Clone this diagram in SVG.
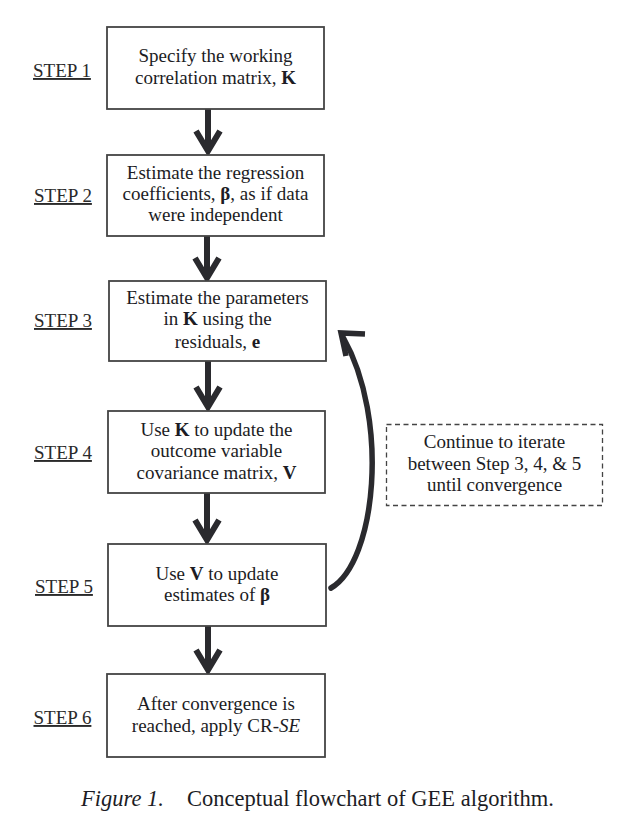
<svg xmlns="http://www.w3.org/2000/svg" width="620" height="829" viewBox="0 0 620 829">
<style>
.box{fill:#fff;stroke:#444;stroke-width:1.8}
.dbox{fill:#fff;stroke:#444;stroke-width:1.3;stroke-dasharray:5 3.5}
.t{font-family:"Liberation Serif","Times New Roman",serif;font-size:19px;fill:#1c1c24;text-anchor:middle}
.s{font-family:"Liberation Serif","Times New Roman",serif;font-size:19px;fill:#2a2a2a;text-decoration:underline}
.cap{font-family:"Liberation Serif","Times New Roman",serif;font-size:22.5px;fill:#1c1c24}
.b{font-weight:bold}
.i{font-style:italic}
.ar{fill:none;stroke:#2a2a2e;stroke-width:6;stroke-linejoin:miter;stroke-linecap:butt}
</style>
<rect width="620" height="829" fill="#fff"/>
<g id="connectors">
<path class="ar" d="M208,109 V150 M196,131 L208,151 L220,131"/>
<path class="ar" d="M207,236 V277 M195,258 L207,278 L219,258"/>
<path class="ar" d="M208,361 V406 M196,387 L208,407 L220,387"/>
<path class="ar" d="M207,493 V539 M195,520 L207,540 L219,520"/>
<path class="ar" d="M208,626 V669 M196,650 L208,670 L220,650"/>
<path class="ar" d="M331,588 C376,562 390,420 343,337" style="stroke-linecap:round;stroke-width:5.5"/>
<path class="ar" d="M365,334 L341,333 L346,356" style="stroke-width:5.5"/>
</g>
<g id="step1">
<text class="s" x="33" y="77">STEP 1</text>
<rect class="box" x="107" y="27" width="217" height="82"/>
<text class="t" x="215.5" y="62">Specify the working</text>
<text class="t" x="215.5" y="83.5">correlation matrix, <tspan class="b">K</tspan></text>
</g>
<g id="step2">
<text class="s" x="34" y="202">STEP 2</text>
<rect class="box" x="107" y="155" width="217" height="81"/>
<text class="t" x="215.5" y="178.5">Estimate the regression</text>
<text class="t" x="215.5" y="199.5">coefficients, <tspan class="b">β</tspan>, as if data</text>
<text class="t" x="215.5" y="221">were independent</text>
</g>
<g id="step3">
<text class="s" x="34" y="327">STEP 3</text>
<rect class="box" x="109" y="281" width="217" height="80"/>
<text class="t" x="217.5" y="303.5">Estimate the parameters</text>
<text class="t" x="217.5" y="325">in <tspan class="b">K</tspan> using the</text>
<text class="t" x="217.5" y="347.5">residuals, <tspan class="b">e</tspan></text>
</g>
<g id="step4">
<text class="s" x="34" y="459">STEP 4</text>
<rect class="box" x="108" y="411" width="217" height="82"/>
<text class="t" x="216.5" y="435.5">Use <tspan class="b">K</tspan> to update the</text>
<text class="t" x="216.5" y="457">outcome variable</text>
<text class="t" x="216.5" y="478.5">covariance matrix, <tspan class="b">V</tspan></text>
</g>
<g id="step5">
<text class="s" x="35" y="593">STEP 5</text>
<rect class="box" x="108" y="544" width="218" height="82"/>
<text class="t" x="217" y="580">Use <tspan class="b">V</tspan> to update</text>
<text class="t" x="217" y="601">estimates of <tspan class="b">β</tspan></text>
</g>
<g id="step6">
<text class="s" x="33.5" y="724">STEP 6</text>
<rect class="box" x="107" y="674" width="218" height="83"/>
<text class="t" x="216" y="710">After convergence is</text>
<text class="t" x="216" y="731.5">reached, apply CR-<tspan class="i">SE</tspan></text>
</g>
<g id="note">
<rect class="dbox" x="386.5" y="424.5" width="216" height="81"/>
<text class="t" x="494.5" y="447.5">Continue to iterate</text>
<text class="t" x="494.5" y="469.5">between Step 3, 4, &amp; 5</text>
<text class="t" x="494.5" y="491">until convergence</text>
</g>
<g id="caption">
<text class="cap" x="81" y="806"><tspan class="i">Figure 1.</tspan></text>
<text class="cap" x="187" y="806">Conceptual flowchart of GEE algorithm.</text>
</g>
</svg>
